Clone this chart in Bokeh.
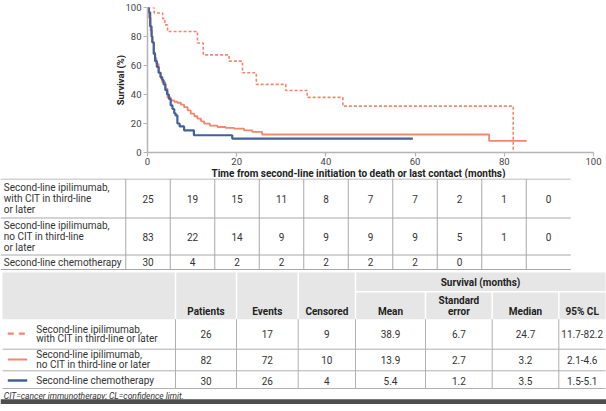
from bokeh.plotting import figure
from bokeh.models import Range1d, FixedTicker, Title
from bokeh.embed import file_html
from bokeh.resources import INLINE
from bokeh.core.properties import value

# ---------------- Kaplan-Meier curves (months, survival %) ----------------
cit_t = [0, 1.5, 3.4, 3.9, 4.5, 11.2, 12.5, 18.3, 21.3, 24.4, 31.0, 35.8, 43.8, 82.0]
cit_s = [100, 96.2, 92.3, 88.0, 83.5, 75.5, 67.3, 63.0, 55.0, 47.0, 42.8, 38.0, 32.0, 0]

nocit_t = [0, 0.3, 0.7, 1.0, 1.4, 1.7, 2.0, 2.5, 3.0, 3.3, 4.0, 4.5, 5.2, 6.0, 6.7, 7.5,
           8.2, 9.0, 9.7, 10.5, 11.2, 12.0, 12.7, 14.0, 15.7, 17.5, 19.4, 21.6, 23.5, 25.7,
           76.6, 85.0]
nocit_s = [100, 93, 84, 76, 69, 65, 61, 55, 51, 48.5, 44, 38, 36, 35, 34.3, 33,
           31.3, 29, 26.8, 25, 23.3, 21.5, 19.9, 18.5, 17.6, 17, 16.5, 15.3, 14.2, 12.4,
           8.0, 8.0]

chemo_t = [0, 0.3, 0.6, 0.9, 1.1, 1.4, 1.7, 2.1, 2.5, 2.9, 3.3, 3.6, 4.0, 4.4, 4.8, 5.2,
           5.6, 6.0, 6.3, 6.7, 7.2, 8.2, 10.4, 19.0, 59.5]
chemo_s = [100, 96.7, 87, 80, 76, 68, 63, 59, 55, 52, 50, 47, 43, 40, 37, 32.5,
           30, 27, 25.6, 20, 18, 15.3, 11.9, 9.6, 9.6]

x_ticks = [0, 20, 40, 60, 80, 100]
y_ticks = [0, 20, 40, 60, 80, 100]
x_title = "Time from second-line initiation to death or last contact (months)"
y_title = "Survival (%)"

# ---------------- Number at risk ----------------
risk_times = [0, 10, 20, 30, 40, 50, 60, 70, 80, 90]
risk_labels = [["Second-line ipilimumab,", "with CIT in third-line", "or later"],
               ["Second-line ipilimumab,", "no CIT in third-line", "or later"],
               ["Second-line chemotherapy"]]
risk_with_cit = [25, 19, 15, 11, 8, 7, 7, 2, 1, 0]
risk_no_cit = [83, 22, 14, 9, 9, 9, 9, 5, 1, 0]
risk_chemo = [30, 4, 2, 2, 2, 2, 2, 0]

# ---------------- Summary table ----------------
sum_labels = [["Second-line ipilimumab,", "with CIT in third-line or later"],
              ["Second-line ipilimumab,", "no CIT in third-line or later"],
              ["Second-line chemotherapy"]]
sum_headers = ["Patients", "Events", "Censored", "Mean", "Standard\nerror", "Median", "95% CL"]
sum_group_header = "Survival (months)"
patients = [26, 82, 30]
events = [17, 72, 26]
censored = [9, 10, 4]
mean_surv = ["38.9", "13.9", "5.4"]
std_err = ["6.7", "2.7", "1.2"]
median_surv = ["24.7", "3.2", "3.5"]
cl95 = ["11.7-82.2", "2.1-4.6", "1.5-5.1"]
footnote = "CIT=cancer immunotherapy; CL=confidence limit."

ORANGE = "#f2876b"
BLUE = "#42609a"
AXIS = "#b5b5b5"
TXT = "#333333"
FONT = "Roboto"
FS = "9.5px"
TFS = "10px"

TOP, FRAME_H, BOTTOM = 7, 145, 26
GAP = 3  # the browser leaves a small gap between the two embedded roots
SPLIT = TOP + FRAME_H + BOTTOM + GAP  # page y where the table figure starts

# ======================= KM figure =======================
p = figure(frame_width=446, frame_height=FRAME_H, x_range=Range1d(0, 100), y_range=Range1d(0, 100),
           output_backend="svg", toolbar_location=None,
           min_border_left=147, min_border_right=13, min_border_top=TOP, min_border_bottom=BOTTOM)
p.xgrid.visible = False
p.ygrid.visible = False
p.outline_line_color = None

p.step(cit_t, cit_s, mode="after", line_color=ORANGE, line_width=1.6, line_dash="3 2")
p.step(nocit_t, nocit_s, mode="after", line_color=ORANGE, line_width=1.8)
p.step(chemo_t, chemo_s, mode="after", line_color=BLUE, line_width=2.2)

p.xaxis.ticker = FixedTicker(ticks=x_ticks)
p.yaxis.ticker = FixedTicker(ticks=y_ticks)
for ax in (p.xaxis, p.yaxis):
    ax.axis_line_color = AXIS
    ax.axis_line_width = 1.5
    ax.major_tick_line_color = AXIS
    ax.major_tick_line_width = 1.2
    ax.major_tick_out = 4
    ax.major_tick_in = 0
    ax.minor_tick_line_color = None
    ax.major_label_text_font = FONT
    ax.major_label_text_font_size = FS
    ax.major_label_text_color = "#444444"
    ax.axis_label_text_font = FONT
    ax.axis_label_text_font_size = FS
    ax.axis_label_text_font_style = "bold"
    ax.axis_label_text_color = "#222222"
p.yaxis.axis_label = y_title
p.xaxis.major_label_standoff = 1
p.yaxis.major_label_standoff = 2
p.yaxis.axis_label_standoff = -4
p.add_layout(Title(text=x_title, align="left", offset=64, standoff=-3,
                   text_font=FONT, text_font_size="10px", text_font_style="bold",
                   text_color="#222222"), "below")

# ======================= Tables figure =======================
T = figure(width=606, height=411 - SPLIT, x_range=Range1d(0, 606), y_range=Range1d(411, SPLIT),
           output_backend="svg", toolbar_location=None, x_axis_type=None, y_axis_type=None,
           min_border=0, min_border_left=0, min_border_right=0, min_border_top=0,
           min_border_bottom=0)
T.outline_line_color = None


def tx(xs, ys, texts, align="center", style="normal", size=TFS, color=TXT):
    T.text(x=xs, y=ys, text=texts, text_align=align, text_baseline="middle",
           text_font=value(FONT), text_font_size=size, text_font_style=style,
           text_color=color)


# --- number at risk table ---
def t2x(t):
    return 147.5 + 4.45 * t

risk_rows = [(181.5, 220.5), (220.5, 257.5), (257.5, 272)]
hl = [181.5, 220.5, 257.5, 272]
edges = [t2x(t - 5) for t in risk_times]
T.segment(x0=[0] * 4, x1=[t2x(95)] * 4, y0=hl, y1=hl, line_color="#a8a8a8", line_width=1)
T.segment(x0=edges, x1=edges, y0=[hl[0]] * len(edges), y1=[272] * len(edges),
          line_color="#a8a8a8", line_width=1)

for (y0, y1), lab, vals in zip(risk_rows, risk_labels, [risk_with_cit, risk_no_cit, risk_chemo]):
    yc = (y0 + y1) / 2
    n = len(lab)
    ys = [yc + (i - (n - 1) / 2) * 11.2 for i in range(n)]
    tx([3.3] * n, ys, lab, align="left")
    tx([t2x(t) for t in risk_times[:len(vals)]], [yc] * len(vals), [str(v) for v in vals])

# --- summary table ---
col_edges = [175, 236, 297.7, 355, 425, 491.7, 558.3, 605]
head_top, head_mid, head_bot = 275, 294.3, 321.7
rows = [(321.7, 351.7), (351.7, 373.3), (373.3, 391)]
T.quad(left=2, right=605, top=head_top, bottom=head_bot, fill_color="#e6e6e6", line_color=None)
T.segment(x0=col_edges[:4], x1=col_edges[:4], y0=[head_top] * 4, y1=[head_bot] * 4,
          line_color="white", line_width=1.5)
T.segment(x0=col_edges[4:7], x1=col_edges[4:7], y0=[head_mid] * 3, y1=[head_bot] * 3,
          line_color="white", line_width=1.5)
T.segment(x0=[355], x1=[605], y0=[head_mid], y1=[head_mid], line_color="white", line_width=1.5)
T.segment(x0=col_edges[:7], x1=col_edges[:7], y0=[head_bot] * 7, y1=[391] * 7,
          line_color="#b0b0b0", line_width=1)
T.segment(x0=[2] * 3, x1=[605] * 3, y0=[r[1] for r in rows], y1=[r[1] for r in rows],
          line_color="#b0b0b0", line_width=1)

centers = [(a + b) / 2 for a, b in zip(col_edges[:-1], col_edges[1:])]
tx([(355 + 605) / 2], [284.5], [sum_group_header], style="bold", color="#222222")
for cx, h in zip(centers, sum_headers):
    parts = h.split("\n")
    if len(parts) == 1:
        tx([cx], [314.3], parts, style="bold", color="#222222")
    else:
        tx([cx] * 2, [303.3, 314.3], parts, style="bold", color="#222222")

row_y = [336.2, 362.0, 383.0]
cols = [patients, events, censored, mean_surv, std_err, median_surv, cl95]
for cx, vals in zip(centers, cols):
    tx([cx] * 3, row_y, [str(v) for v in vals])

for yc, lab in zip(row_y, sum_labels):
    n = len(lab)
    ys = [yc + (i - (n - 1) / 2) * 9.4 for i in range(n)]
    tx([35.7] * n, ys, lab, align="left")

# legend samples
T.line(x=[7.3, 26.7], y=[row_y[0]] * 2, line_color=ORANGE, line_width=2.2, line_dash="6 5")
T.line(x=[7.3, 26.7], y=[row_y[1]] * 2, line_color=ORANGE, line_width=2.2)
T.line(x=[7.3, 26.7], y=[row_y[2]] * 2, line_color=BLUE, line_width=2.6)

tx([3.3], [398.3], [footnote], align="left", style="italic", size="8.5px")
T.quad(left=0, right=606, top=401.7, bottom=406.5, fill_color="#4d4d4d", line_color=None)

open("out.html", "w").write(file_html([p, T], INLINE))
